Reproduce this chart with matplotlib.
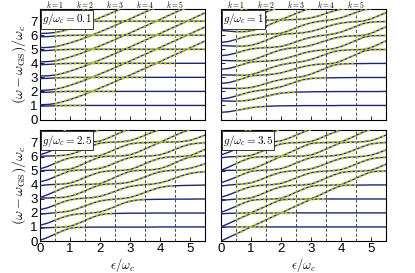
import matplotlib
matplotlib.use("Agg")
import matplotlib.pyplot as plt
from matplotlib.transforms import blended_transform_factory

plt.rcParams['font.family'] = ['Liberation Sans', 'DejaVu Sans']
plt.rcParams['mathtext.fontset'] = 'cm'

# detuning grid (epsilon / omega_c)
EPS = [0.0, 0.25, 0.5, 0.75, 1.0, 1.25, 1.5, 1.75, 2.0, 2.25, 2.5, 2.75,
       3.0, 3.25, 3.5, 3.75, 4.0, 4.25, 4.5, 4.75, 5.0, 5.25, 5.5]

PANEL_LABELS = ['0.1', '1', '2.5', '3.5']
K_VALUES = [1, 2, 3, 4, 5]
K_EPS = [0.5, 1.5, 2.5, 3.5, 4.5]
X_TICKS = [0, 1, 2, 3, 4, 5]
Y_TICKS = [0, 1, 2, 3, 4, 5, 6, 7]

# g/omega_c = 0.1 : flat levels and rising levels
G01_FLAT = [
    [0.95, 0.96, 0.98, 0.99] + [1.00] * 19,
    [1.93, 1.94, 1.97, 1.99] + [2.00] * 19,
    [2.91, 2.93, 2.96, 2.98, 2.99] + [3.00] * 18,
    [3.90, 3.92, 3.95, 3.98, 3.99] + [4.00] * 18,
    [4.89, 4.91, 4.95, 4.97, 4.99] + [5.00] * 18,
    [5.88, 5.90, 5.94, 5.97, 5.99] + [6.00] * 18,
    [6.87, 6.89, 6.93, 6.96, 6.98] + [7.00] * 18,
]
G01_RISING = [
    [1.05, 1.07, 1.13, 1.26, 1.42, 1.60, 1.80, 2.02, 2.24, 2.46, 2.69, 2.93, 3.16, 3.40, 3.64, 3.88, 4.12, 4.37, 4.61, 4.85, 5.10, 5.34, 5.59],
    [2.07, 2.09, 2.15, 2.27, 2.43, 2.61, 2.81, 3.02, 3.24, 3.46, 3.69, 3.93, 4.16, 4.40, 4.64, 4.88, 5.12, 5.37, 5.61, 5.85, 6.10, 6.34, 6.59],
    [3.09, 3.11, 3.16, 3.28, 3.44, 3.62, 3.81, 4.02, 4.24, 4.46, 4.69, 4.93, 5.16, 5.40, 5.64, 5.88, 6.12, 6.37, 6.61, 6.85, 7.10, 7.34, 7.59],
    [4.10, 4.12, 4.17, 4.29, 4.45, 4.62, 4.81, 5.02, 5.24, 5.46, 5.69, 5.93, 6.16, 6.40, 6.64, 6.88, 7.12, 7.37, 7.61, 7.85, 8.10],
    [5.11, 5.13, 5.18, 5.30, 5.45, 5.62, 5.81, 6.02, 6.24, 6.46, 6.69, 6.93, 7.16, 7.40, 7.64, 7.88, 8.12],
    [6.12, 6.14, 6.19, 6.30, 6.45, 6.62, 6.81, 7.02, 7.24, 7.46, 7.69, 7.93],
    [7.13, 7.15, 7.20, 7.31, 7.46, 7.63, 7.81, 8.02],
]

# g/omega_c = 1 : levels 1..15 above the ground state
G1_LEVELS = [
    [0.51, 0.55, 0.64, 0.74, 0.84, 0.90, 0.93, 0.96, 0.97, 0.98, 0.98, 0.99, 0.99, 0.99, 0.99, 0.99, 1.00, 1.00, 1.00, 1.00, 1.00, 1.00, 1.00],
    [1.33, 1.31, 1.30, 1.33, 1.40, 1.52, 1.65, 1.78, 1.87, 1.92, 1.95, 1.96, 1.97, 1.98, 1.98, 1.99, 1.99, 1.99, 1.99, 1.99, 1.99, 1.99, 2.00],
    [1.46, 1.53, 1.67, 1.83, 1.97, 2.06, 2.12, 2.21, 2.33, 2.50, 2.68, 2.84, 2.92, 2.95, 2.96, 2.97, 2.98, 2.98, 2.99, 2.99, 2.99, 2.99, 2.99],
    [2.22, 2.21, 2.21, 2.22, 2.28, 2.40, 2.56, 2.72, 2.84, 2.93, 2.99, 3.07, 3.23, 3.44, 3.66, 3.87, 3.95, 3.97, 3.98, 3.98, 3.99, 3.99, 3.99],
    [2.57, 2.62, 2.76, 2.93, 3.11, 3.15, 3.18, 3.23, 3.32, 3.46, 3.62, 3.77, 3.87, 3.93, 3.96, 4.00, 4.16, 4.39, 4.62, 4.86, 4.97, 4.98, 4.98],
    [3.18, 3.17, 3.16, 3.15, 3.18, 3.35, 3.55, 3.74, 3.89, 3.99, 4.06, 4.14, 4.27, 4.45, 4.65, 4.83, 4.92, 4.95, 4.97, 4.98, 5.11, 5.35, 5.60],
    [3.58, 3.63, 3.77, 3.94, 4.09, 4.13, 4.15, 4.19, 4.27, 4.40, 4.56, 4.73, 4.85, 4.92, 4.97, 5.04, 5.19, 5.40, 5.63, 5.85, 5.96, 5.97, 5.98],
    [4.21, 4.19, 4.18, 4.17, 4.21, 4.38, 4.59, 4.79, 4.96, 5.06, 5.11, 5.17, 5.28, 5.44, 5.62, 5.78, 5.89, 5.94, 5.96, 5.99, 6.13, 6.36, 6.60],
    [4.54, 4.60, 4.73, 4.89, 5.02, 5.08, 5.11, 5.14, 5.20, 5.34, 5.53, 5.71, 5.85, 5.95, 6.01, 6.09, 6.22, 6.42, 6.63, 6.83, 6.93, 6.96, 6.97],
    [5.27, 5.24, 5.22, 5.22, 5.28, 5.43, 5.63, 5.85, 6.04, 6.10, 6.13, 6.18, 6.27, 6.41, 6.58, 6.75, 6.86, 6.93, 6.96, 7.01, 7.16, 7.38, 7.61],
    [5.49, 5.55, 5.70, 5.86, 5.99, 6.05, 6.08, 6.09, 6.13, 6.31, 6.52, 6.72, 6.88, 6.98, 7.05, 7.12, 7.24, 7.42, 7.62, 7.80, 7.91],
    [6.34, 6.29, 6.25, 6.25, 6.31, 6.46, 6.65, 6.87, 7.07, 7.10, 7.12, 7.15, 7.23, 7.37, 7.55, 7.72, 7.85, 7.93],
    [6.43, 6.52, 6.68, 6.84, 6.97, 7.04, 7.07, 7.08, 7.11, 7.32, 7.54, 7.75, 7.93],
    [7.37, 7.30, 7.26, 7.26, 7.32, 7.46, 7.65, 7.85, 8.02],
    [7.40, 7.52, 7.68, 7.85, 7.99],
]

# g/omega_c = 2.5
G25_LEVELS = [
    [0.05, 0.25, 0.49, 0.72, 0.92, 0.97, 0.98, 0.99, 0.99, 0.99, 0.99, 0.99, 0.99, 0.99, 0.99, 0.99, 1.00, 1.00, 1.00, 1.00, 1.00, 1.00, 1.00],
    [0.90, 0.95, 0.97, 0.99, 1.04, 1.23, 1.46, 1.69, 1.87, 1.94, 1.96, 1.97, 1.98, 1.98, 1.98, 1.99, 1.99, 1.99, 1.99, 1.99, 1.99, 1.99, 1.99],
    [1.12, 1.27, 1.48, 1.68, 1.84, 1.92, 1.96, 2.00, 2.06, 2.24, 2.45, 2.67, 2.83, 2.92, 2.95, 2.96, 2.97, 2.97, 2.98, 2.98, 2.98, 2.99, 2.99],
    [1.90, 1.96, 2.01, 2.06, 2.14, 2.30, 2.50, 2.69, 2.85, 2.93, 2.98, 3.02, 3.10, 3.26, 3.46, 3.65, 3.81, 3.90, 3.93, 3.95, 3.96, 3.97, 3.98],
    [2.23, 2.36, 2.56, 2.77, 2.93, 3.01, 3.05, 3.09, 3.18, 3.34, 3.53, 3.73, 3.88, 3.96, 4.01, 4.05, 4.14, 4.28, 4.47, 4.66, 4.81, 4.89, 4.93],
    [3.06, 3.06, 3.08, 3.10, 3.18, 3.35, 3.57, 3.80, 4.00, 4.05, 4.07, 4.11, 4.19, 4.36, 4.56, 4.77, 4.93, 5.00, 5.04, 5.08, 5.17, 5.32, 5.50],
    [3.09, 3.29, 3.52, 3.75, 3.93, 4.00, 4.02, 4.04, 4.08, 4.29, 4.53, 4.76, 4.96, 5.02, 5.04, 5.07, 5.15, 5.33, 5.56, 5.79, 5.99, 6.03, 6.06],
    [3.94, 4.00, 4.03, 4.05, 4.12, 4.30, 4.52, 4.73, 4.90, 4.98, 5.01, 5.03, 5.08, 5.27, 5.50, 5.72, 5.89, 5.97, 6.00, 6.02, 6.07, 6.28, 6.52],
    [4.21, 4.35, 4.57, 4.79, 4.99, 5.04, 5.06, 5.09, 5.17, 5.33, 5.55, 5.77, 5.94, 6.01, 6.04, 6.06, 6.14, 6.30, 6.52, 6.73, 6.89, 6.96, 6.99],
    [5.00, 5.03, 5.04, 5.06, 5.11, 5.30, 5.54, 5.77, 5.98, 6.03, 6.04, 6.06, 6.13, 6.32, 6.55, 6.79, 7.02, 7.04, 7.05, 7.08, 7.16, 7.33, 7.54],
    [5.13, 5.30, 5.53, 5.75, 5.92, 5.99, 6.02, 6.03, 6.08, 6.28, 6.51, 6.73, 6.91, 6.98, 7.00, 7.02, 7.03, 7.27, 7.51, 7.74, 7.94],
    [6.02, 6.05, 6.06, 6.09, 6.16, 6.33, 6.55, 6.78, 6.97, 7.02, 7.04, 7.07, 7.14, 7.31, 7.53, 7.75, 7.92],
    [6.14, 6.31, 6.54, 6.78, 6.98, 7.03, 7.04, 7.05, 7.11, 7.31, 7.54, 7.78, 8.00],
    [6.96, 7.01, 7.03, 7.04, 7.09, 7.29, 7.52, 7.74, 7.92],
    [7.19, 7.34, 7.56, 7.80, 8.00],
]

# g/omega_c = 3.5
G35_LEVELS = [
    [0.00, 0.25, 0.50, 0.75] + [1.00] * 19,
    [0.99, 1.00, 1.00, 1.00, 1.00, 1.25, 1.50, 1.75] + [2.00] * 15,
    [1.01, 1.24, 1.49, 1.73, 1.96, 1.98, 1.99, 1.99, 2.00, 2.24, 2.49, 2.73, 2.96, 2.99, 2.99, 2.99, 2.99, 2.99, 2.99, 2.99, 2.99, 2.99, 2.99],
    [1.93, 1.97, 1.98, 1.99, 2.01, 2.24, 2.48, 2.72, 2.93, 2.97, 2.98, 2.98, 3.00, 3.23, 3.48, 3.73, 3.94, 3.98, 3.98, 3.98, 3.99, 3.99, 3.99],
    [2.04, 2.24, 2.47, 2.70, 2.89, 2.95, 2.97, 2.99, 3.03, 3.23, 3.47, 3.70, 3.90, 3.96, 3.97, 3.98, 4.01, 4.23, 4.47, 4.71, 4.92, 4.97, 4.98],
    [2.87, 2.94, 2.98, 3.00, 3.07, 3.25, 3.47, 3.69, 3.86, 3.94, 3.97, 3.99, 4.05, 4.24, 4.47, 4.69, 4.87, 4.94, 4.97, 4.98, 5.03, 5.23, 5.47],
    [3.11, 3.28, 3.49, 3.70, 3.87, 3.95, 3.99, 4.02, 4.10, 4.27, 4.48, 4.69, 4.86, 4.94, 4.98, 5.01, 5.08, 5.25, 5.47, 5.68, 5.85, 5.93, 5.96],
    [3.91, 3.98, 4.02, 4.06, 4.14, 4.31, 4.52, 4.73, 4.89, 4.97, 5.01, 5.05, 5.13, 5.30, 5.50, 5.71, 5.88, 5.96, 5.99, 6.03, 6.11, 6.27, 6.48],
    [4.15, 4.33, 4.54, 4.77, 4.96, 5.02, 5.04, 5.07, 5.15, 5.32, 5.54, 5.76, 5.94, 6.01, 6.03, 6.07, 6.15, 6.32, 6.53, 6.74, 6.91, 6.98, 7.01],
    [5.01, 5.03, 5.03, 5.05, 5.11, 5.30, 5.53, 5.78, 6.02, 6.03, 6.04, 6.05, 6.12, 6.31, 6.54, 6.78, 6.99, 7.03, 7.04, 7.07, 7.14, 7.32, 7.54],
    [5.03, 5.26, 5.50, 5.74, 5.93, 5.99, 6.00, 6.01, 6.02, 6.26, 6.50, 6.74, 6.94, 6.99, 7.01, 7.02, 7.05, 7.27, 7.51, 7.76, 7.97],
    [5.92, 5.99, 6.01, 6.03, 6.09, 6.28, 6.51, 6.73, 6.91, 6.98, 7.00, 7.02, 7.08, 7.27, 7.50, 7.72, 7.90],
    [6.13, 6.31, 6.54, 6.77, 6.96, 7.02, 7.03, 7.06, 7.13, 7.30, 7.53, 7.76, 7.95],
    [7.00, 7.02, 7.03, 7.04, 7.09, 7.29, 7.53, 7.77, 8.00],
    [7.04, 7.27, 7.51, 7.74, 7.93],
]

BLUE = '#1c2672'
YELLOW = '#c2cc2e'

W, H = 415, 273
fig = plt.figure(figsize=(W / 100, H / 100), dpi=100)
boxes = [(40, 8.5), (221, 8.5), (40, 130), (221, 130)]
pw, ph = 165, 111


def draw_curve(ax, ys, yellow_end):
    xs = EPS[:len(ys)]
    ax.plot(xs, ys, color=BLUE, lw=1.0, zorder=3, solid_capstyle='butt')
    seg = [(x, y) for x, y in zip(xs, ys) if 0.5 <= x <= yellow_end]
    if len(seg) > 1:
        ax.plot([p[0] for p in seg], [p[1] for p in seg], color=YELLOW,
                lw=1.9, ls=(0, (0.9, 0.9)), alpha=0.85, zorder=4)


panels = []
for i, (x0, y0) in enumerate(boxes):
    ax = fig.add_axes([x0 / W, 1 - (y0 + ph) / H, pw / W, ph / H])
    panels.append(ax)
    for ke in K_EPS:
        ax.axvline(ke, color='#4a4a4a', lw=0.7, ls=(0, (3.0, 2.0)), zorder=2)
    ax.set_xlim(0, 5.5)
    ax.set_ylim(0, 7.9)
    ax.set_xticks(X_TICKS)
    ax.set_yticks(Y_TICKS)
    ax.tick_params(direction='in', length=3, width=0.6, labelsize=9.5, pad=1.5)
    for s in ax.spines.values():
        s.set_linewidth(0.8)
    if i % 2 == 1:
        ax.set_yticklabels([])
    if i < 2:
        ax.set_xticklabels([])
    ax.text(0.012, 0.975, r'$g/\omega_c=%s$' % PANEL_LABELS[i], transform=ax.transAxes,
            ha='left', va='top', fontsize=8, zorder=6,
            bbox=dict(boxstyle='square,pad=0.12', fc='white', ec='#333333', lw=0.7))
    if i < 2:
        tr = blended_transform_factory(ax.transData, ax.transAxes)
        for kv, ke in zip(K_VALUES, K_EPS):
            ax.text(ke, 1.04, r'$k=%d$' % kv, transform=tr, ha='center', va='center',
                    fontsize=5.5)

# panel 1
for m, ys in enumerate(G01_FLAT, start=1):
    draw_curve(panels[0], ys, m + 0.5)
for ys in G01_RISING:
    draw_curve(panels[0], ys, 5.5)
# panels 2-4
for ax, levels in zip(panels[1:], [G1_LEVELS, G25_LEVELS, G35_LEVELS]):
    for j, ys in enumerate(levels, start=1):
        draw_curve(ax, ys, j + 0.5)

for ax in (panels[0], panels[2]):
    ax.set_ylabel(r'$(\omega-\omega_{\rm GS})/\omega_c$', fontsize=10, labelpad=2)
for ax in (panels[2], panels[3]):
    ax.set_xlabel(r'$\epsilon/\omega_c$', fontsize=9, labelpad=0.5)

fig.savefig('out.png', dpi=100)
